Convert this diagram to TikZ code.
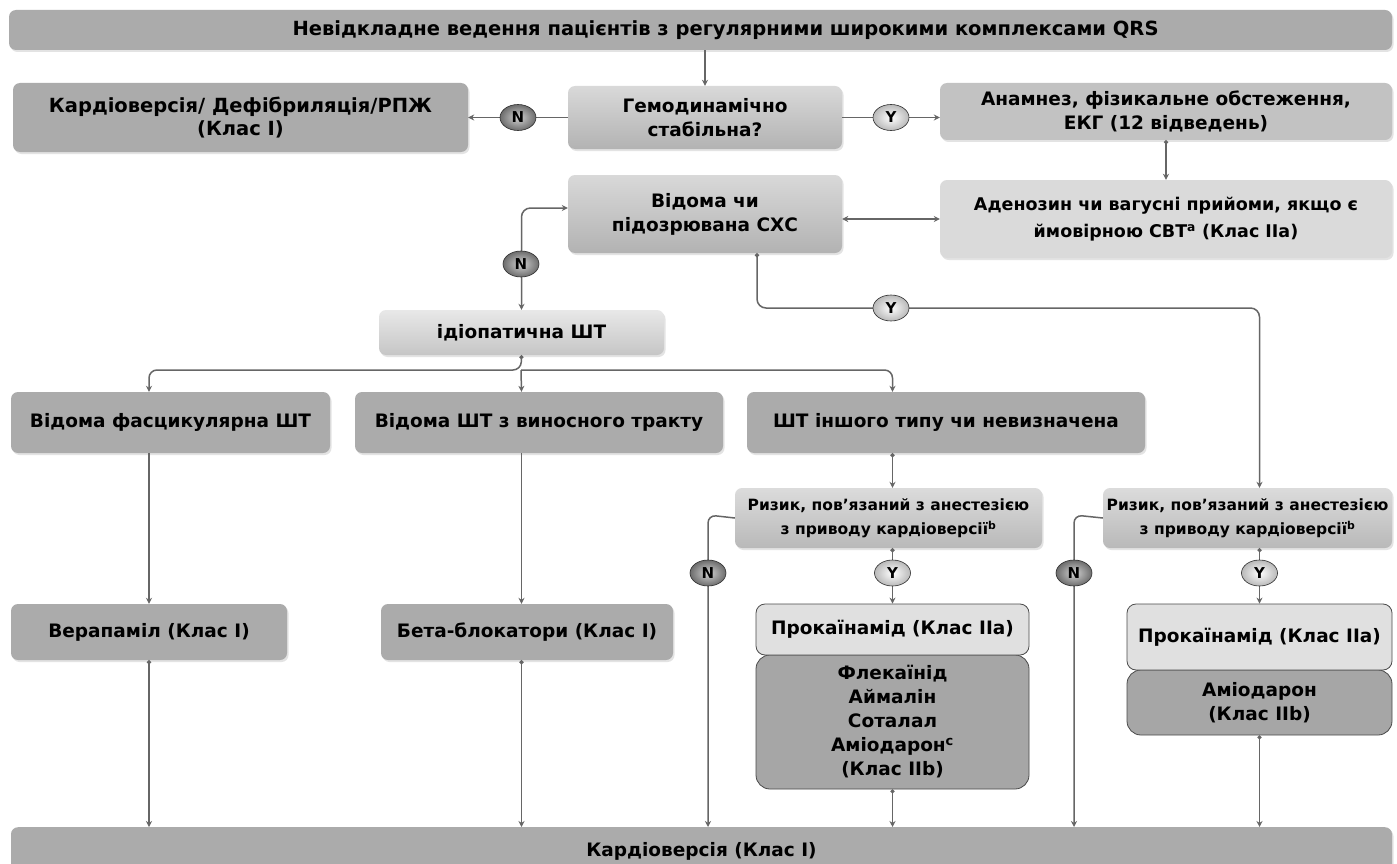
\documentclass[tikz,border=0pt]{standalone}
\usepackage{fontspec}
\setmainfont{DejaVu Sans}
\usetikzlibrary{arrows.meta,shapes.geometric,shadows,calc}
\definecolor{boxgray}{HTML}{ABABAB}
\definecolor{midgray}{HTML}{A6A6A6}
\definecolor{lightbox}{HTML}{DADADA}
\definecolor{anamgray}{HTML}{C2C2C2}
\definecolor{prokgray}{HTML}{E0E0E0}
\definecolor{linegray}{HTML}{666666}
\definecolor{edgegray}{HTML}{4A4A4A}
\begin{document}
\begin{tikzpicture}[x=1pt,y=-1pt,
  every node/.style={font=\bfseries\fontsize{18.5}{24}\selectfont, align=center, inner sep=2pt},
  box/.style={rounded corners=7pt, draw=none, drop shadow={opacity=0.22, shadow xshift=1.5pt, shadow yshift=-2pt}},
  flat/.style={box, fill=boxgray},
  grad/.style={box, top color=gray!30, bottom color=gray!60},
  lightgrad/.style={box, top color=gray!18, bottom color=gray!45},
  riskbox/.style={box, top color=gray!28, bottom color=gray!55, font=\bfseries\fontsize{15.5}{24}\selectfont},
  prok/.style={rounded corners=9pt, fill=prokgray, draw=edgegray, line width=0.8pt},
  drug/.style={rounded corners=14pt, fill=midgray, draw=edgegray, line width=0.8pt},
  arr/.style={draw=linegray, line width=1.5pt, -{Stealth[length=6pt,width=6pt]}},
  darr/.style={arr, {Circle[length=4pt]}-{Stealth[length=6pt,width=6pt]}},
  badge/.style={ellipse, minimum width=36pt, minimum height=26pt, inner sep=0pt, draw=gray!35!black, line width=0.6pt, font=\bfseries\fontsize{15}{15}\selectfont},
  nbadge/.style={badge, inner color=gray!35, outer color=gray!85!black},
  ybadge/.style={badge, inner color=white, outer color=gray!55}
]
\useasboundingbox (0,0) rectangle (1397,864);
\clip (0,0) rectangle (1397,864);
\fill[white] (0,0) rectangle (1397,864);

% row 0
\node[flat, minimum width=1383pt, minimum height=40pt, font=\bfseries\fontsize{19.5}{24}\selectfont] (top) at (700.5,30) {\hspace*{50pt}Невідкладне ведення пацієнтів з регулярними широкими комплексами QRS};

% row 1
\node[flat, minimum width=455pt, minimum height=69pt, font=\bfseries\fontsize{19.5}{23}\selectfont] (kard) at (240.5,117.5) {Кардіоверсія/ Дефібриляція/РПЖ\\(Клас I)};
\node[grad, minimum width=274pt, minimum height=63pt] (gemo) at (705,117.5) {Гемодинамічно\\стабільна?};
\node[box, fill=anamgray, minimum width=452pt, minimum height=57pt] (anam) at (1166,111.5) {Анамнез, фізикальне обстеження,\\ЕКГ (12 відведень)};

% row 2
\node[grad, minimum width=274pt, minimum height=78pt] (schs) at (705,214) {Відома чи\\підозрювана СХС};
\node[box, fill=lightbox, minimum width=452pt, minimum height=78pt, font=\bfseries\fontsize{17.5}{27}\selectfont] (aden) at (1166,219) {Аденозин чи вагусні прийоми, якщо є\\ймовірною СВТ\textsuperscript{a} (Клас IIa)};

% row 3
\node[lightgrad, minimum width=285pt, minimum height=45pt] (idio) at (521.5,332.5) {ідіопатична ШТ};

% row 4
\node[flat, minimum width=319pt, minimum height=61pt] (fasc) at (170.5,422.5) {Відома фасцикулярна ШТ};
\node[flat, minimum width=368pt, minimum height=61pt] (vyno) at (539,422.5) {Відома ШТ з виносного тракту};
\node[flat, minimum width=398pt, minimum height=61pt] (inshe) at (946,422.5) {ШТ іншого типу чи невизначена};

% row 5
\node[riskbox, minimum width=307pt, minimum height=60pt] (risk1) at (888.5,518) {Ризик, пов’язаний з анестезією\\з приводу кардіоверсії\textsuperscript{b}};
\node[riskbox, minimum width=289pt, minimum height=60pt] (risk2) at (1247.5,518) {Ризик, пов’язаний з анестезією\\з приводу кардіоверсії\textsuperscript{b}};

% row 6
\node[flat, minimum width=276pt, minimum height=56pt] (verap) at (149,632) {Верапаміл (Клас I)};
\node[flat, minimum width=292pt, minimum height=56pt] (beta) at (527,632) {Бета-блокатори (Клас I)};
\node[drug, minimum width=273pt, minimum height=134pt] (flek) at (892.5,722) {Флекаїнід\\Аймалін\\Соталал\\Аміодарон\textsuperscript{c}\\(Клас IIb)};
\node[prok, minimum width=273pt, minimum height=51pt] (prok1) at (892.5,629.5) {Прокаїнамід (Клас IIa)};
\node[drug, minimum width=265pt, minimum height=65pt] (amio) at (1259.5,702.5) {Аміодарон\\(Клас IIb)};
\node[prok, minimum width=265pt, minimum height=66pt] (prok2) at (1259.5,637) {Прокаїнамід (Клас IIa)};

% bottom
\node[flat, minimum width=1381pt, minimum height=50pt, anchor=north] (bot) at (701.5,827) {\raisebox{6pt}{Кардіоверсія (Клас I)}};

% helper coordinates
\coordinate (ybend) at (757,308);
\coordinate (n1) at (708,515);
\coordinate (n2) at (1074,515);
\coordinate (br) at (521,370);

% connectors
\draw[arr] (top.south -| gemo.north) -- (gemo.north);
\draw[arr] (gemo.west) -- (kard.east) node[midway, nbadge] {N};
\draw[arr] (gemo.east) -- (gemo.east -| anam.west) node[midway, ybadge] {Y};
\draw[darr] (anam.south) -- (aden.north);
\draw[arr, {Stealth[length=6pt,width=6pt]}-{Stealth[length=6pt,width=6pt]}] (aden.west) -- (aden.west -| schs.east);
\draw[arr, {Stealth[length=6pt,width=6pt]}-{Stealth[length=6pt,width=6pt]}, rounded corners=9pt] ([yshift=6pt]schs.west) -| (idio.north);
\node[nbadge] (bN0) at (521,264) {N};
\draw[darr, rounded corners=9pt] (schs.south -| ybend) -- (ybend) -| (risk2.north -| prok2.north);
\node[ybadge] (bY0) at (891,308) {Y};

\draw[darr, rounded corners=8pt] (idio.south) -- (br) -| (fasc.north -| verap.north);
\draw[arr, rounded corners=8pt] (br) -| (inshe.north -| prok1.north);
\draw[arr] (br) -- (vyno.north -| idio.south);

\draw[arr] (fasc.south -| verap.north) -- (verap.north);
\draw[arr] (vyno.south -| idio.south) -- (beta.north -| idio.south);
\draw[darr] (inshe.south -| prok1.north) -- (risk1.north -| prok1.north);

\draw[darr] (verap.south) -- (verap.south |- bot.north);
\draw[darr] (beta.south -| idio.south) -- (bot.north -| idio.south);

\draw[arr, rounded corners=8pt] (risk1.west) -- (n1) -- (n1 |- bot.north);
\node[nbadge] (bN1) at (708,573) {N};
\draw[darr] (risk1.south -| prok1.north) -- (prok1.north);
\node[ybadge] (bY1) at (892.5,573) {Y};
\draw[darr] (flek.south) -- (flek.south |- bot.north);

\draw[arr, rounded corners=8pt] (risk2.west) -- (n2) -- (n2 |- bot.north);
\node[nbadge] (bN2) at (1074,573) {N};
\draw[darr] (risk2.south -| prok2.north) -- (prok2.north);
\node[ybadge] (bY2) at (1259.5,573) {Y};
\draw[darr] (amio.south) -- (amio.south |- bot.north);
\end{tikzpicture}
\end{document}
